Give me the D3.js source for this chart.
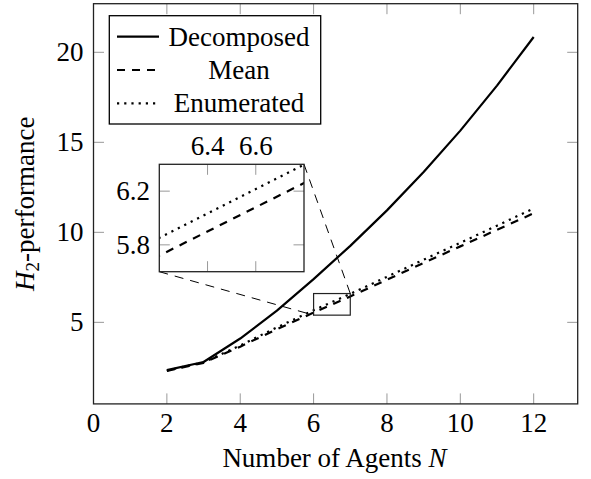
<!DOCTYPE html>
<html><head><meta charset="utf-8">
<script src="https://cdn.jsdelivr.net/npm/d3@7"></script>
<style>body{margin:0;background:#fff}svg{display:block}</style>
</head><body>
<svg id="c" width="591" height="479"></svg>
<script>
const agents=[2,3,4,5,6,7,8,9,10,11,12];
const decomposed=[2.35,2.8,4.1,5.65,7.4,9.25,11.22,13.35,15.65,18.15,20.85];
const mean=[2.3,2.75,3.65,4.62,5.54,6.44,7.37,8.3,9.22,10.14,11.06];
const enumerated=[2.32,2.78,3.72,4.72,5.67,6.58,7.53,8.48,9.42,10.37,11.33];
const xTicks=[0,2,4,6,8,10,12];
const yTicks=[5,10,15,20];
const insetXTicks=[6.4,6.6];
const insetYTicks=[5.8,6.2];
const seriesNames=["Decomposed","Mean","Enumerated"];

const FONT="'Liberation Serif','Times New Roman',serif";
const FS=27;
const svg=d3.select("#c");
const L=93.5,R=577.7,T=3.7,B=403.9;
const x=d3.scaleLinear().domain([0,13.2]).range([L,R]);
const y=d3.scaleLinear().domain([0.47,22.7]).range([B,T]);

const styles=[
  {dash:null,w:2.2},
  {dash:"8,7",w:2.2},
  {dash:"2.2,5",w:2.2}
];
const data=[decomposed,mean,enumerated];

const defs=svg.append("defs");
defs.append("clipPath").attr("id","clipMain").append("rect").attr("x",L).attr("y",T).attr("width",R-L).attr("height",B-T);

const TL=10.5, tickCol="#999";
const tg=svg.append("g");
xTicks.forEach(v=>{
  tg.append("line").attr("x1",x(v)).attr("x2",x(v)).attr("y1",B).attr("y2",B-TL).attr("stroke",tickCol).attr("stroke-width",1);
  tg.append("line").attr("x1",x(v)).attr("x2",x(v)).attr("y1",T).attr("y2",T+TL).attr("stroke",tickCol).attr("stroke-width",1);
  svg.append("text").attr("x",x(v)).attr("y",432).attr("text-anchor","middle").attr("font-family",FONT).attr("font-size",FS).text(v);
});
yTicks.forEach(v=>{
  tg.append("line").attr("x1",L).attr("x2",L+TL).attr("y1",y(v)).attr("y2",y(v)).attr("stroke",tickCol).attr("stroke-width",1);
  tg.append("line").attr("x1",R).attr("x2",R-TL).attr("y1",y(v)).attr("y2",y(v)).attr("stroke",tickCol).attr("stroke-width",1);
  svg.append("text").attr("x",83.5).attr("y",y(v)+9).attr("text-anchor","end").attr("font-family",FONT).attr("font-size",FS).text(v);
});

const line=d3.line().x((d,i)=>x(agents[i])).y(d=>y(d));
const sg=svg.append("g").attr("clip-path","url(#clipMain)");
data.forEach((arr,k)=>{
  sg.append("path").attr("d",line(arr)).attr("fill","none").attr("stroke","#000")
    .attr("stroke-width",styles[k].w).attr("stroke-dasharray",styles[k].dash).attr("stroke-linejoin","round");
});

svg.append("rect").attr("x",L).attr("y",T).attr("width",R-L).attr("height",B-T).attr("fill","none").attr("stroke","#222").attr("stroke-width",1.3);

const zx=[6,7], zy=[5.4,6.6];
svg.append("rect").attr("x",x(zx[0])).attr("y",y(zy[1])).attr("width",x(zx[1])-x(zx[0])).attr("height",y(zy[0])-y(zy[1]))
  .attr("fill","none").attr("stroke","#222").attr("stroke-width",1.2);

const IL=159.3,IR=304,IT=164.3,IB=271.7;
const ix=d3.scaleLinear().domain([6.2,6.8]).range([IL,IR]);
const iy=d3.scaleLinear().domain([5.6,6.4]).range([IB,IT]);
svg.append("line").attr("x1",IR).attr("y1",IT).attr("x2",x(zx[1])).attr("y2",y(zy[1])).attr("stroke","#000").attr("stroke-width",1).attr("stroke-dasharray","9,7");
svg.append("line").attr("x1",IL).attr("y1",IB).attr("x2",x(zx[0])).attr("y2",y(zy[0])).attr("stroke","#000").attr("stroke-width",1).attr("stroke-dasharray","9,7");

svg.append("rect").attr("x",IL).attr("y",IT).attr("width",IR-IL).attr("height",IB-IT).attr("fill","#fff");
defs.append("clipPath").attr("id","clipInset").append("rect").attr("x",IL).attr("y",IT).attr("width",IR-IL).attr("height",IB-IT);
const ig=svg.append("g");
insetXTicks.forEach(v=>{
  ig.append("line").attr("x1",ix(v)).attr("x2",ix(v)).attr("y1",IB).attr("y2",IB-TL).attr("stroke",tickCol);
  ig.append("line").attr("x1",ix(v)).attr("x2",ix(v)).attr("y1",IT).attr("y2",IT+TL).attr("stroke",tickCol);
  svg.append("text").attr("x",ix(v)).attr("y",155).attr("text-anchor","middle").attr("font-family",FONT).attr("font-size",FS).text(v.toFixed(1));
});
insetYTicks.forEach(v=>{
  ig.append("line").attr("x1",IL).attr("x2",IL+TL).attr("y1",iy(v)).attr("y2",iy(v)).attr("stroke",tickCol);
  ig.append("line").attr("x1",IR).attr("x2",IR-TL).attr("y1",iy(v)).attr("y2",iy(v)).attr("stroke",tickCol);
  svg.append("text").attr("x",150).attr("y",iy(v)+9).attr("text-anchor","end").attr("font-family",FONT).attr("font-size",FS).text(v.toFixed(1));
});
const iline=d3.line().x((d,i)=>ix(agents[i])).y(d=>iy(d));
const isg=svg.append("g").attr("clip-path","url(#clipInset)");
data.forEach((arr,k)=>{
  isg.append("path").attr("d",iline(arr)).attr("fill","none").attr("stroke","#000")
    .attr("stroke-width",styles[k].w).attr("stroke-dasharray",styles[k].dash);
});
svg.append("rect").attr("x",IL).attr("y",IT).attr("width",IR-IL).attr("height",IB-IT).attr("fill","none").attr("stroke","#222").attr("stroke-width",1.3);

const lg=svg.append("g");
lg.append("rect").attr("x",109.3).attr("y",15.7).attr("width",211.4).attr("height",108.3).attr("fill","#fff").attr("stroke","#000").attr("stroke-width",1.3);
seriesNames.forEach((nm,k)=>{
  const ry=36.7+k*33.3;
  lg.append("line").attr("x1",117).attr("x2",159).attr("y1",ry).attr("y2",ry).attr("stroke","#000")
    .attr("stroke-width",styles[k].w).attr("stroke-dasharray",styles[k].dash);
  lg.append("text").attr("x",239).attr("y",ry+9).attr("text-anchor","middle").attr("font-family",FONT).attr("font-size",FS).text(nm);
});

const xl=svg.append("text").attr("x",334.5).attr("y",467).attr("text-anchor","middle").attr("font-family",FONT).attr("font-size",FS);
xl.append("tspan").text("Number of Agents ");
xl.append("tspan").attr("font-style","italic").text("N");
const yl=svg.append("text").attr("transform","translate(34,"+((T+B)/2)+") rotate(-90)").attr("text-anchor","middle").attr("font-family",FONT).attr("font-size",FS);
yl.append("tspan").attr("font-style","italic").text("H");
yl.append("tspan").attr("font-size",19).attr("dy",5).text("2");
yl.append("tspan").attr("dy",-5).text("-performance");
</script>
</body></html>
